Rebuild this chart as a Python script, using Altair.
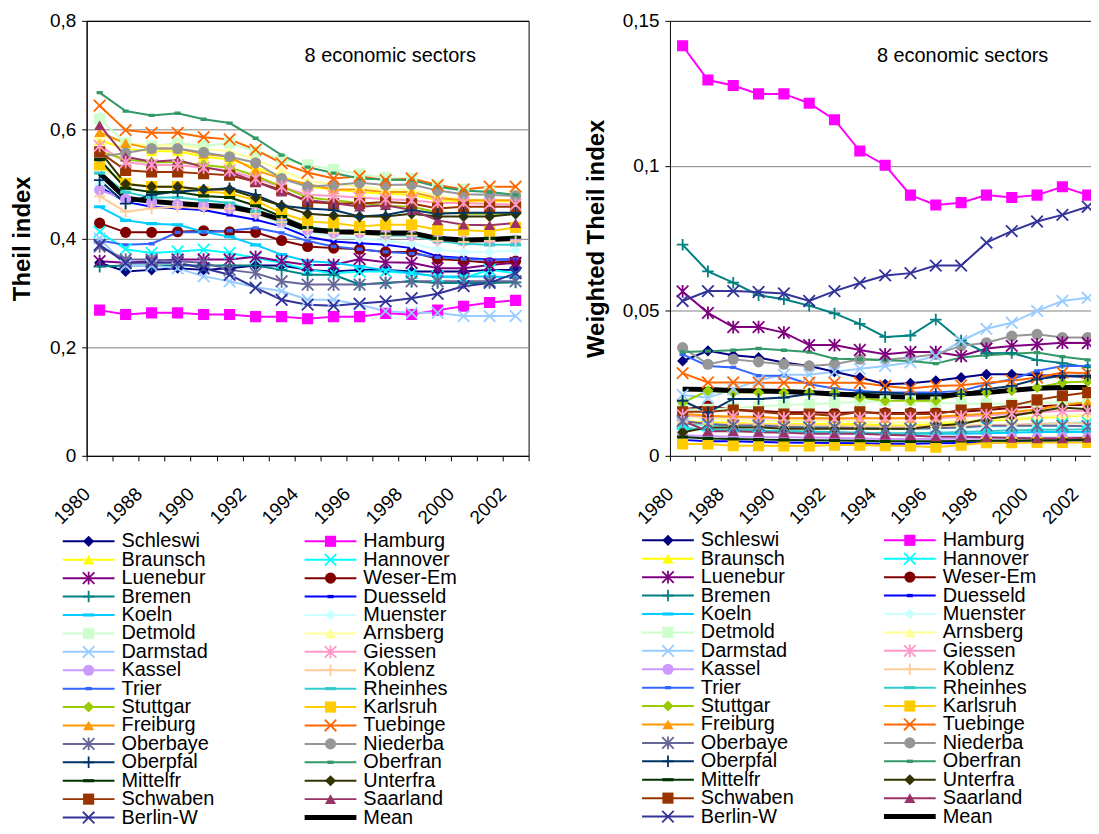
import altair as alt
import pandas as pd

FONT = "Liberation Sans"

YEARS = ["1980", "1987", "1988", "1989", "1990", "1991", "1992", "1993", "1994",
         "1995", "1996", "1997", "1998", "1999", "2000", "2001", "2002"]

SERIES = ["Schleswi", "Hamburg", "Braunsch", "Hannover", "Luenebur", "Weser-Em",
          "Bremen", "Duesseld", "Koeln", "Muenster", "Detmold", "Arnsberg",
          "Darmstad", "Giessen", "Kassel", "Koblenz", "Trier", "Rheinhes",
          "Stuttgar", "Karlsruh", "Freiburg", "Tuebinge", "Oberbaye", "Niederba",
          "Oberpfal", "Oberfran", "Mittelfr", "Unterfra", "Schwaben", "Saarland",
          "Berlin-W", "Mean"]

COLORS = ["#000080", "#FF00FF", "#FFFF00", "#00FFFF", "#800080", "#800000",
          "#008080", "#0000FF", "#00CCFF", "#CCFFFF", "#CCFFCC", "#FFFF99",
          "#99CCFF", "#FF99CC", "#CC99FF", "#FFCC99", "#3366FF", "#33CCCC",
          "#99CC00", "#FFCC00", "#FF9900", "#FF6600", "#666699", "#969696",
          "#003366", "#339966", "#003300", "#333300", "#993300", "#993366",
          "#333399", "#000000"]

MARKERS = ["diamond", "square", "triangle", "x", "star", "circle", "plus", "sdash", "ldash",
           "diamond", "square", "triangle", "x", "star", "circle", "plus", "sdash", "ldash",
           "diamond", "square", "triangle", "x", "star", "circle", "plus", "sdash", "ldash",
           "diamond", "square", "triangle", "x", "none"]

# ---- Theil index (left panel) ----
L_schleswi = [0.355, 0.339, 0.342, 0.345, 0.342, 0.345, 0.350, 0.350, 0.342, 0.339, 0.342, 0.342, 0.339, 0.339, 0.339, 0.342, 0.342]
L_hamburg = [0.268, 0.260, 0.263, 0.263, 0.260, 0.260, 0.256, 0.256, 0.252, 0.256, 0.256, 0.262, 0.260, 0.268, 0.275, 0.282, 0.286]
L_braunsch = [0.580, 0.565, 0.560, 0.560, 0.550, 0.545, 0.530, 0.515, 0.495, 0.490, 0.485, 0.482, 0.480, 0.470, 0.468, 0.468, 0.468]
L_hannover = [0.412, 0.380, 0.373, 0.376, 0.379, 0.373, 0.364, 0.355, 0.342, 0.336, 0.339, 0.339, 0.336, 0.330, 0.327, 0.342, 0.336]
L_luenebur = [0.358, 0.355, 0.358, 0.361, 0.361, 0.361, 0.366, 0.358, 0.351, 0.351, 0.362, 0.356, 0.355, 0.345, 0.345, 0.351, 0.355]
L_weserem = [0.428, 0.411, 0.411, 0.412, 0.414, 0.412, 0.411, 0.396, 0.385, 0.382, 0.380, 0.375, 0.375, 0.362, 0.359, 0.355, 0.358]
L_bremen = [0.348, 0.350, 0.350, 0.350, 0.350, 0.350, 0.350, 0.342, 0.333, 0.333, 0.315, 0.318, 0.321, 0.318, 0.318, 0.318, 0.319]
L_duesseld = [0.495, 0.467, 0.458, 0.455, 0.452, 0.443, 0.434, 0.422, 0.403, 0.394, 0.391, 0.388, 0.382, 0.367, 0.364, 0.361, 0.361]
L_koeln = [0.458, 0.433, 0.427, 0.425, 0.412, 0.403, 0.388, 0.370, 0.358, 0.355, 0.348, 0.342, 0.336, 0.330, 0.330, 0.330, 0.328]
L_muenster = [0.500, 0.470, 0.465, 0.465, 0.460, 0.455, 0.445, 0.425, 0.410, 0.405, 0.400, 0.395, 0.390, 0.380, 0.375, 0.375, 0.378]
L_detmold = [0.620, 0.575, 0.570, 0.575, 0.570, 0.575, 0.560, 0.545, 0.535, 0.527, 0.518, 0.512, 0.510, 0.497, 0.490, 0.485, 0.480]
L_arnsberg = [0.590, 0.575, 0.570, 0.572, 0.565, 0.560, 0.545, 0.525, 0.505, 0.500, 0.495, 0.490, 0.490, 0.478, 0.472, 0.470, 0.470]
L_darmstad = [0.400, 0.350, 0.350, 0.345, 0.330, 0.321, 0.310, 0.303, 0.287, 0.287, 0.278, 0.266, 0.263, 0.263, 0.257, 0.257, 0.257]
L_giessen = [0.570, 0.540, 0.535, 0.535, 0.530, 0.525, 0.510, 0.495, 0.480, 0.478, 0.475, 0.472, 0.470, 0.465, 0.465, 0.463, 0.462]
L_kassel = [0.489, 0.472, 0.466, 0.462, 0.460, 0.455, 0.447, 0.430, 0.415, 0.410, 0.410, 0.408, 0.405, 0.398, 0.395, 0.395, 0.397]
L_koblenz = [0.477, 0.449, 0.455, 0.458, 0.455, 0.455, 0.445, 0.430, 0.415, 0.410, 0.408, 0.405, 0.405, 0.395, 0.393, 0.395, 0.395]
L_trier = [0.396, 0.388, 0.390, 0.411, 0.411, 0.414, 0.419, 0.410, 0.395, 0.385, 0.380, 0.375, 0.372, 0.365, 0.362, 0.360, 0.362]
L_rheinhes = [0.520, 0.485, 0.475, 0.475, 0.470, 0.465, 0.450, 0.430, 0.420, 0.415, 0.410, 0.405, 0.405, 0.395, 0.390, 0.388, 0.388]
L_stuttgar = [0.560, 0.545, 0.540, 0.540, 0.535, 0.530, 0.515, 0.495, 0.475, 0.470, 0.465, 0.460, 0.458, 0.448, 0.445, 0.445, 0.445]
L_karlsruh = [0.535, 0.501, 0.495, 0.495, 0.486, 0.483, 0.470, 0.446, 0.431, 0.428, 0.422, 0.425, 0.425, 0.416, 0.415, 0.413, 0.420]
L_freiburg = [0.595, 0.575, 0.565, 0.565, 0.555, 0.550, 0.525, 0.510, 0.500, 0.490, 0.490, 0.485, 0.485, 0.474, 0.470, 0.470, 0.470]
L_tuebinge = [0.644, 0.599, 0.594, 0.594, 0.586, 0.582, 0.563, 0.538, 0.521, 0.510, 0.514, 0.507, 0.510, 0.498, 0.490, 0.495, 0.495]
L_oberbaye = [0.385, 0.361, 0.361, 0.358, 0.355, 0.342, 0.336, 0.321, 0.315, 0.315, 0.315, 0.318, 0.321, 0.321, 0.321, 0.321, 0.321]
L_niederba = [0.550, 0.557, 0.565, 0.565, 0.558, 0.550, 0.539, 0.510, 0.495, 0.498, 0.502, 0.498, 0.499, 0.488, 0.481, 0.480, 0.478]
L_oberpfal = [0.507, 0.464, 0.480, 0.486, 0.489, 0.492, 0.480, 0.460, 0.455, 0.452, 0.440, 0.443, 0.452, 0.445, 0.447, 0.447, 0.447]
L_oberfran = [0.668, 0.634, 0.626, 0.630, 0.619, 0.612, 0.584, 0.553, 0.531, 0.520, 0.510, 0.508, 0.507, 0.495, 0.488, 0.485, 0.480]
L_mittelfr = [0.545, 0.492, 0.485, 0.485, 0.478, 0.475, 0.460, 0.440, 0.420, 0.415, 0.410, 0.408, 0.408, 0.400, 0.398, 0.400, 0.402]
L_unterfra = [0.560, 0.500, 0.495, 0.495, 0.490, 0.490, 0.475, 0.460, 0.445, 0.442, 0.440, 0.440, 0.445, 0.440, 0.440, 0.440, 0.445]
L_schwaben = [0.559, 0.525, 0.522, 0.522, 0.519, 0.516, 0.504, 0.489, 0.467, 0.464, 0.464, 0.467, 0.464, 0.455, 0.458, 0.458, 0.458]
L_saarland = [0.608, 0.550, 0.541, 0.544, 0.531, 0.522, 0.504, 0.486, 0.470, 0.465, 0.458, 0.461, 0.452, 0.433, 0.425, 0.424, 0.428]
L_berlinw = [0.388, 0.355, 0.355, 0.355, 0.345, 0.333, 0.309, 0.287, 0.278, 0.276, 0.280, 0.284, 0.290, 0.298, 0.312, 0.318, 0.336]
L_mean = [0.520, 0.474, 0.468, 0.464, 0.461, 0.458, 0.449, 0.434, 0.416, 0.412, 0.411, 0.410, 0.410, 0.400, 0.397, 0.398, 0.400]

# ---- Weighted Theil index (right panel) ----
W_schleswi = [0.0327, 0.0362, 0.0347, 0.0339, 0.0322, 0.0310, 0.0290, 0.0270, 0.0247, 0.0250, 0.0259, 0.0270, 0.0281, 0.0281, 0.0278, 0.0275, 0.0272]
W_hamburg = [0.1414, 0.1296, 0.1277, 0.1248, 0.1248, 0.1216, 0.1159, 0.1051, 0.1002, 0.0899, 0.0865, 0.0873, 0.0899, 0.0891, 0.0899, 0.0928, 0.0899]
W_braunsch = [0.0120, 0.0115, 0.0115, 0.0110, 0.0110, 0.0110, 0.0110, 0.0110, 0.0105, 0.0105, 0.0110, 0.0115, 0.0120, 0.0125, 0.0130, 0.0135, 0.0140]
W_hannover = [0.0110, 0.0105, 0.0102, 0.0102, 0.0100, 0.0100, 0.0098, 0.0096, 0.0094, 0.0094, 0.0095, 0.0098, 0.0100, 0.0105, 0.0110, 0.0112, 0.0115]
W_luenebur = [0.0567, 0.0493, 0.0444, 0.0444, 0.0425, 0.0382, 0.0382, 0.0365, 0.0350, 0.0358, 0.0358, 0.0344, 0.0370, 0.0379, 0.0384, 0.0390, 0.0389]
W_weserem = [0.0160, 0.0172, 0.0160, 0.0155, 0.0150, 0.0150, 0.0148, 0.0150, 0.0148, 0.0148, 0.0150, 0.0152, 0.0158, 0.0165, 0.0170, 0.0175, 0.0175]
W_bremen = [0.0728, 0.0636, 0.0597, 0.0554, 0.0540, 0.0518, 0.0491, 0.0455, 0.0410, 0.0415, 0.0470, 0.0398, 0.0354, 0.0355, 0.0330, 0.0320, 0.0305]
W_duesseld = [0.0055, 0.0050, 0.0050, 0.0048, 0.0046, 0.0045, 0.0044, 0.0043, 0.0042, 0.0042, 0.0043, 0.0044, 0.0046, 0.0048, 0.0050, 0.0052, 0.0053]
W_koeln = [0.0095, 0.0090, 0.0088, 0.0086, 0.0084, 0.0082, 0.0080, 0.0078, 0.0076, 0.0076, 0.0076, 0.0076, 0.0078, 0.0080, 0.0082, 0.0082, 0.0082]
W_muenster = [0.0105, 0.0100, 0.0098, 0.0098, 0.0096, 0.0095, 0.0094, 0.0093, 0.0092, 0.0092, 0.0093, 0.0095, 0.0098, 0.0100, 0.0102, 0.0104, 0.0105]
W_detmold = [0.0160, 0.0160, 0.0165, 0.0170, 0.0175, 0.0178, 0.0182, 0.0186, 0.0190, 0.0190, 0.0185, 0.0180, 0.0180, 0.0180, 0.0182, 0.0185, 0.0185]
W_arnsberg = [0.0135, 0.0130, 0.0125, 0.0120, 0.0120, 0.0120, 0.0118, 0.0118, 0.0115, 0.0115, 0.0115, 0.0120, 0.0125, 0.0130, 0.0135, 0.0138, 0.0140]
W_darmstad = [0.0210, 0.0200, 0.0230, 0.0260, 0.0280, 0.0280, 0.0290, 0.0300, 0.0310, 0.0322, 0.0344, 0.0396, 0.0438, 0.0459, 0.0500, 0.0534, 0.0545]
W_giessen = [0.0140, 0.0135, 0.0135, 0.0130, 0.0130, 0.0130, 0.0128, 0.0130, 0.0130, 0.0130, 0.0130, 0.0135, 0.0140, 0.0145, 0.0150, 0.0155, 0.0155]
W_kassel = [0.0070, 0.0068, 0.0066, 0.0065, 0.0064, 0.0063, 0.0062, 0.0060, 0.0058, 0.0058, 0.0058, 0.0060, 0.0060, 0.0062, 0.0062, 0.0063, 0.0063]
W_koblenz = [0.0115, 0.0110, 0.0110, 0.0108, 0.0106, 0.0105, 0.0104, 0.0102, 0.0100, 0.0100, 0.0102, 0.0104, 0.0106, 0.0108, 0.0110, 0.0112, 0.0112]
W_trier = [0.0350, 0.0310, 0.0305, 0.0276, 0.0276, 0.0247, 0.0232, 0.0224, 0.0218, 0.0218, 0.0218, 0.0224, 0.0247, 0.0264, 0.0293, 0.0310, 0.0310]
W_rheinhes = [0.0095, 0.0092, 0.0090, 0.0088, 0.0086, 0.0084, 0.0082, 0.0080, 0.0078, 0.0078, 0.0080, 0.0082, 0.0085, 0.0088, 0.0090, 0.0090, 0.0092]
W_stuttgar = [0.0184, 0.0224, 0.0218, 0.0218, 0.0218, 0.0218, 0.0218, 0.0201, 0.0190, 0.0190, 0.0190, 0.0213, 0.0218, 0.0225, 0.0236, 0.0253, 0.0256]
W_karlsruh = [0.0041, 0.0041, 0.0035, 0.0035, 0.0034, 0.0034, 0.0037, 0.0037, 0.0035, 0.0034, 0.0030, 0.0037, 0.0045, 0.0045, 0.0046, 0.0046, 0.0046]
W_freiburg = [0.0145, 0.0138, 0.0135, 0.0135, 0.0130, 0.0130, 0.0130, 0.0130, 0.0130, 0.0130, 0.0135, 0.0140, 0.0145, 0.0150, 0.0160, 0.0175, 0.0185]
W_tuebinge = [0.0285, 0.0253, 0.0253, 0.0252, 0.0252, 0.0252, 0.0252, 0.0252, 0.0241, 0.0232, 0.0241, 0.0243, 0.0252, 0.0259, 0.0270, 0.0287, 0.0285]
W_oberbaye = [0.0120, 0.0110, 0.0105, 0.0105, 0.0100, 0.0098, 0.0098, 0.0095, 0.0093, 0.0093, 0.0095, 0.0098, 0.0104, 0.0104, 0.0104, 0.0104, 0.0102]
W_niederba = [0.0373, 0.0316, 0.0333, 0.0324, 0.0316, 0.0310, 0.0316, 0.0333, 0.0331, 0.0339, 0.0350, 0.0379, 0.0390, 0.0413, 0.0419, 0.0408, 0.0408]
W_oberpfal = [0.0190, 0.0150, 0.0196, 0.0196, 0.0201, 0.0213, 0.0213, 0.0218, 0.0218, 0.0213, 0.0213, 0.0213, 0.0230, 0.0241, 0.0264, 0.0276, 0.0276]
W_oberfran = [0.0358, 0.0361, 0.0364, 0.0370, 0.0364, 0.0358, 0.0335, 0.0333, 0.0330, 0.0327, 0.0318, 0.0339, 0.0347, 0.0352, 0.0356, 0.0342, 0.0331]
W_mittelfr = [0.0065, 0.0060, 0.0058, 0.0056, 0.0055, 0.0054, 0.0053, 0.0052, 0.0050, 0.0050, 0.0050, 0.0051, 0.0052, 0.0053, 0.0054, 0.0055, 0.0055]
W_unterfra = [0.0081, 0.0098, 0.0098, 0.0098, 0.0093, 0.0093, 0.0093, 0.0093, 0.0093, 0.0093, 0.0104, 0.0110, 0.0127, 0.0138, 0.0152, 0.0167, 0.0161]
W_schwaben = [0.0152, 0.0152, 0.0158, 0.0152, 0.0144, 0.0144, 0.0138, 0.0152, 0.0144, 0.0144, 0.0144, 0.0158, 0.0164, 0.0173, 0.0193, 0.0207, 0.0218]
W_saarland = [0.0121, 0.0085, 0.0085, 0.0082, 0.0080, 0.0076, 0.0076, 0.0076, 0.0073, 0.0070, 0.0066, 0.0066, 0.0064, 0.0062, 0.0060, 0.0060, 0.0062]
W_berlinw = [0.0534, 0.0568, 0.0568, 0.0565, 0.0560, 0.0534, 0.0568, 0.0596, 0.0622, 0.0630, 0.0656, 0.0656, 0.0735, 0.0775, 0.0808, 0.0831, 0.0859]
W_mean = [0.0230, 0.0229, 0.0225, 0.0224, 0.0222, 0.0218, 0.0213, 0.0209, 0.0205, 0.0202, 0.0203, 0.0213, 0.0218, 0.0226, 0.0233, 0.0236, 0.0236]

THEIL = [L_schleswi, L_hamburg, L_braunsch, L_hannover, L_luenebur, L_weserem, L_bremen,
         L_duesseld, L_koeln, L_muenster, L_detmold, L_arnsberg, L_darmstad, L_giessen,
         L_kassel, L_koblenz, L_trier, L_rheinhes, L_stuttgar, L_karlsruh, L_freiburg,
         L_tuebinge, L_oberbaye, L_niederba, L_oberpfal, L_oberfran, L_mittelfr,
         L_unterfra, L_schwaben, L_saarland, L_berlinw, L_mean]
WEIGHTED = [W_schleswi, W_hamburg, W_braunsch, W_hannover, W_luenebur, W_weserem, W_bremen,
            W_duesseld, W_koeln, W_muenster, W_detmold, W_arnsberg, W_darmstad, W_giessen,
            W_kassel, W_koblenz, W_trier, W_rheinhes, W_stuttgar, W_karlsruh, W_freiburg,
            W_tuebinge, W_oberbaye, W_niederba, W_oberpfal, W_oberfran, W_mittelfr,
            W_unterfra, W_schwaben, W_saarland, W_berlinw, W_mean]

NOTE = "8 economic sectors"

SHAPE_PATHS = {
    "diamond": "diamond",
    "square": "square",
    "triangle": "triangle-up",
    "circle": "circle",
    "x": "M-1,-1L1,1M-1,1L1,-1",
    "star": "M-1,-1L1,1M-1,1L1,-1M0,-1.1L0,1.1",
    "plus": "M-1,0L1,0M0,-1L0,1",
    "sdash": "M-0.55,-0.3L0.55,-0.3L0.55,0.3L-0.55,0.3Z",
    "ldash": "M-1,-0.28L1,-0.28L1,0.28L-1,0.28Z",
    "none": "circle",
}
STROKED = {"x", "star", "plus"}
filled_names = [s for s, m in zip(SERIES, MARKERS) if m not in STROKED and m != "none"]
stroked_names = [s for s, m in zip(SERIES, MARKERS) if m in STROKED]

color_scale = alt.Scale(domain=SERIES, range=COLORS)
shape_scale = alt.Scale(domain=SERIES, range=[SHAPE_PATHS[m] for m in MARKERS])

shown = YEARS[0::2]
js_arr = "[" + ",".join("'%s'" % s for s in shown) + "]"
x_label_expr = "(datum.value %% 2 == 0 && datum.value / 2 < %d) ? %s[datum.value / 2] : ''" % (len(shown), js_arr)

FILLED_SIZE = 125
STROKED_SIZE = 135


def long_df(values_list):
    rows = []
    for name, vals in zip(SERIES, values_list):
        for i, v in enumerate(vals):
            rows.append({"series": name, "year": YEARS[i], "pos": i + 0.5, "value": v})
    return pd.DataFrame(rows)


PLOT_H = 437


def panel(values_list, ymax, yticks, xmax, width, ytitle, note_x, box, title_pad):
    df = long_df(values_list)
    x = alt.X("pos:Q", title=None,
              scale=alt.Scale(domain=[0, xmax], nice=False, zero=False),
              axis=alt.Axis(values=list(range(0, int(xmax) + 1)), labelExpr=x_label_expr,
                            labelAngle=315, labelAlign="right", labelBaseline="middle",
                            labelPadding=30, tickSize=5, grid=False, labelOverlap=False,
                            labelFlush=False))
    y = alt.Y("value:Q", title=ytitle,
              scale=alt.Scale(domain=[0, ymax], nice=False, zero=True),
              axis=alt.Axis(values=yticks,
                            labelExpr="replace(format(datum.value, '~g'), '.', ',')",
                            grid=True, tickSize=5, labelPadding=6, titlePadding=title_pad,
                            gridColor=alt.condition("datum.value >= %s" % ymax,
                                                    alt.value("#000000"), alt.value("#808080")),
                            gridOpacity=alt.condition("datum.value <= 0",
                                                      alt.value(0), alt.value(1))))
    base = alt.Chart(df)
    regions = base.transform_filter(alt.datum.series != "Mean")
    col = alt.Color("series:N", scale=color_scale, legend=None)
    shp = alt.Shape("series:N", scale=shape_scale, legend=None)
    lines = regions.mark_line(strokeWidth=2, clip=True).encode(x=x, y=y, color=col)
    mean = base.transform_filter(alt.datum.series == "Mean").mark_line(
        strokeWidth=5, color="#000000", clip=True).encode(x=x, y=y)
    filled = regions.transform_filter(
        alt.FieldOneOfPredicate(field="series", oneOf=filled_names)
    ).mark_point(filled=True, size=FILLED_SIZE, opacity=1, clip=True).encode(
        x=x, y=y, color=col, shape=shp)
    stroked = regions.transform_filter(
        alt.FieldOneOfPredicate(field="series", oneOf=stroked_names)
    ).mark_point(filled=False, size=STROKED_SIZE, strokeWidth=1.8, opacity=1, clip=True).encode(
        x=x, y=y, color=col, shape=shp)
    note = alt.Chart(pd.DataFrame({"t": [NOTE]})).mark_text(
        font=FONT, fontSize=20, align="center", baseline="middle", color="#000000"
    ).encode(x=alt.value(note_x), y=alt.value(35), text="t:N")
    view = alt.ViewBackground(stroke="#000000", strokeWidth=1) if box else alt.ViewBackground(stroke=None)
    return alt.layer(lines, mean, filled, stroked, note).properties(
        width=width, height=PLOT_H, view=view)


ROW_STEP = 18.5
LEG_TOP = 0.48


def legend(c0, c1, width):
    ldf = pd.DataFrame({
        "series": SERIES,
        "col": [i % 2 for i in range(len(SERIES))],
        "row": [i // 2 for i in range(len(SERIES))],
    })
    nrows = (len(SERIES) + 1) // 2
    leg_h = (nrows - 0.5 + LEG_TOP) * ROW_STEP
    x = alt.X("col:Q", scale=alt.Scale(domain=[0, 1], range=[c0, c1]), axis=None)
    y = alt.Y("row:Q", scale=alt.Scale(domain=[-LEG_TOP, nrows - 0.5], range=[0, leg_h]), axis=None)
    col = alt.Color("series:N", scale=color_scale, legend=None)
    shp = alt.Shape("series:N", scale=shape_scale, legend=None)
    base = alt.Chart(ldf)
    rule = base.mark_rule(xOffset=-26, x2Offset=26).encode(
        x=x, x2=alt.X2("col"), y=y, color=col,
        strokeWidth=alt.condition(alt.datum.series == "Mean", alt.value(5), alt.value(2)))
    filled = base.transform_filter(
        alt.FieldOneOfPredicate(field="series", oneOf=filled_names)
    ).mark_point(filled=True, size=FILLED_SIZE, opacity=1).encode(x=x, y=y, color=col, shape=shp)
    stroked = base.transform_filter(
        alt.FieldOneOfPredicate(field="series", oneOf=stroked_names)
    ).mark_point(filled=False, size=STROKED_SIZE, strokeWidth=1.8, opacity=1).encode(
        x=x, y=y, color=col, shape=shp)
    text = base.mark_text(font=FONT, fontSize=20, align="left", baseline="middle",
                          dx=33, color="#000000").encode(x=x, y=y, text="series:N")
    return alt.layer(rule, filled, stroked, text).properties(
        width=width, height=leg_h, view=alt.ViewBackground(stroke=None))


left_plot = panel(THEIL, 0.8, [0, 0.2, 0.4, 0.6, 0.8], 17, 444, "Theil index", 305, True, 15)
right_plot = panel(WEIGHTED, 0.15, [0, 0.05, 0.1, 0.15], 16.63, 423, "Weighted Theil index", 294, False, 14)

left_col = alt.vconcat(left_plot, legend(2, 245, 444), spacing=2)
right_col = alt.vconcat(right_plot, legend(-2, 241, 423), spacing=2)

chart = alt.hconcat(left_col, right_col, spacing=48).properties(
    padding={"left": 2, "top": 1, "right": 0, "bottom": 0}
).configure_view(stroke=None).configure_axis(
    labelFont=FONT, titleFont=FONT, labelFontSize=19, titleFontSize=24,
    titleFontWeight="bold", labelColor="#000000", titleColor="#000000",
    domainColor="#000000", tickColor="#000000", domainWidth=1, tickWidth=1
)

chart.save("out.html", embed_options={"renderer": "svg", "actions": False})
